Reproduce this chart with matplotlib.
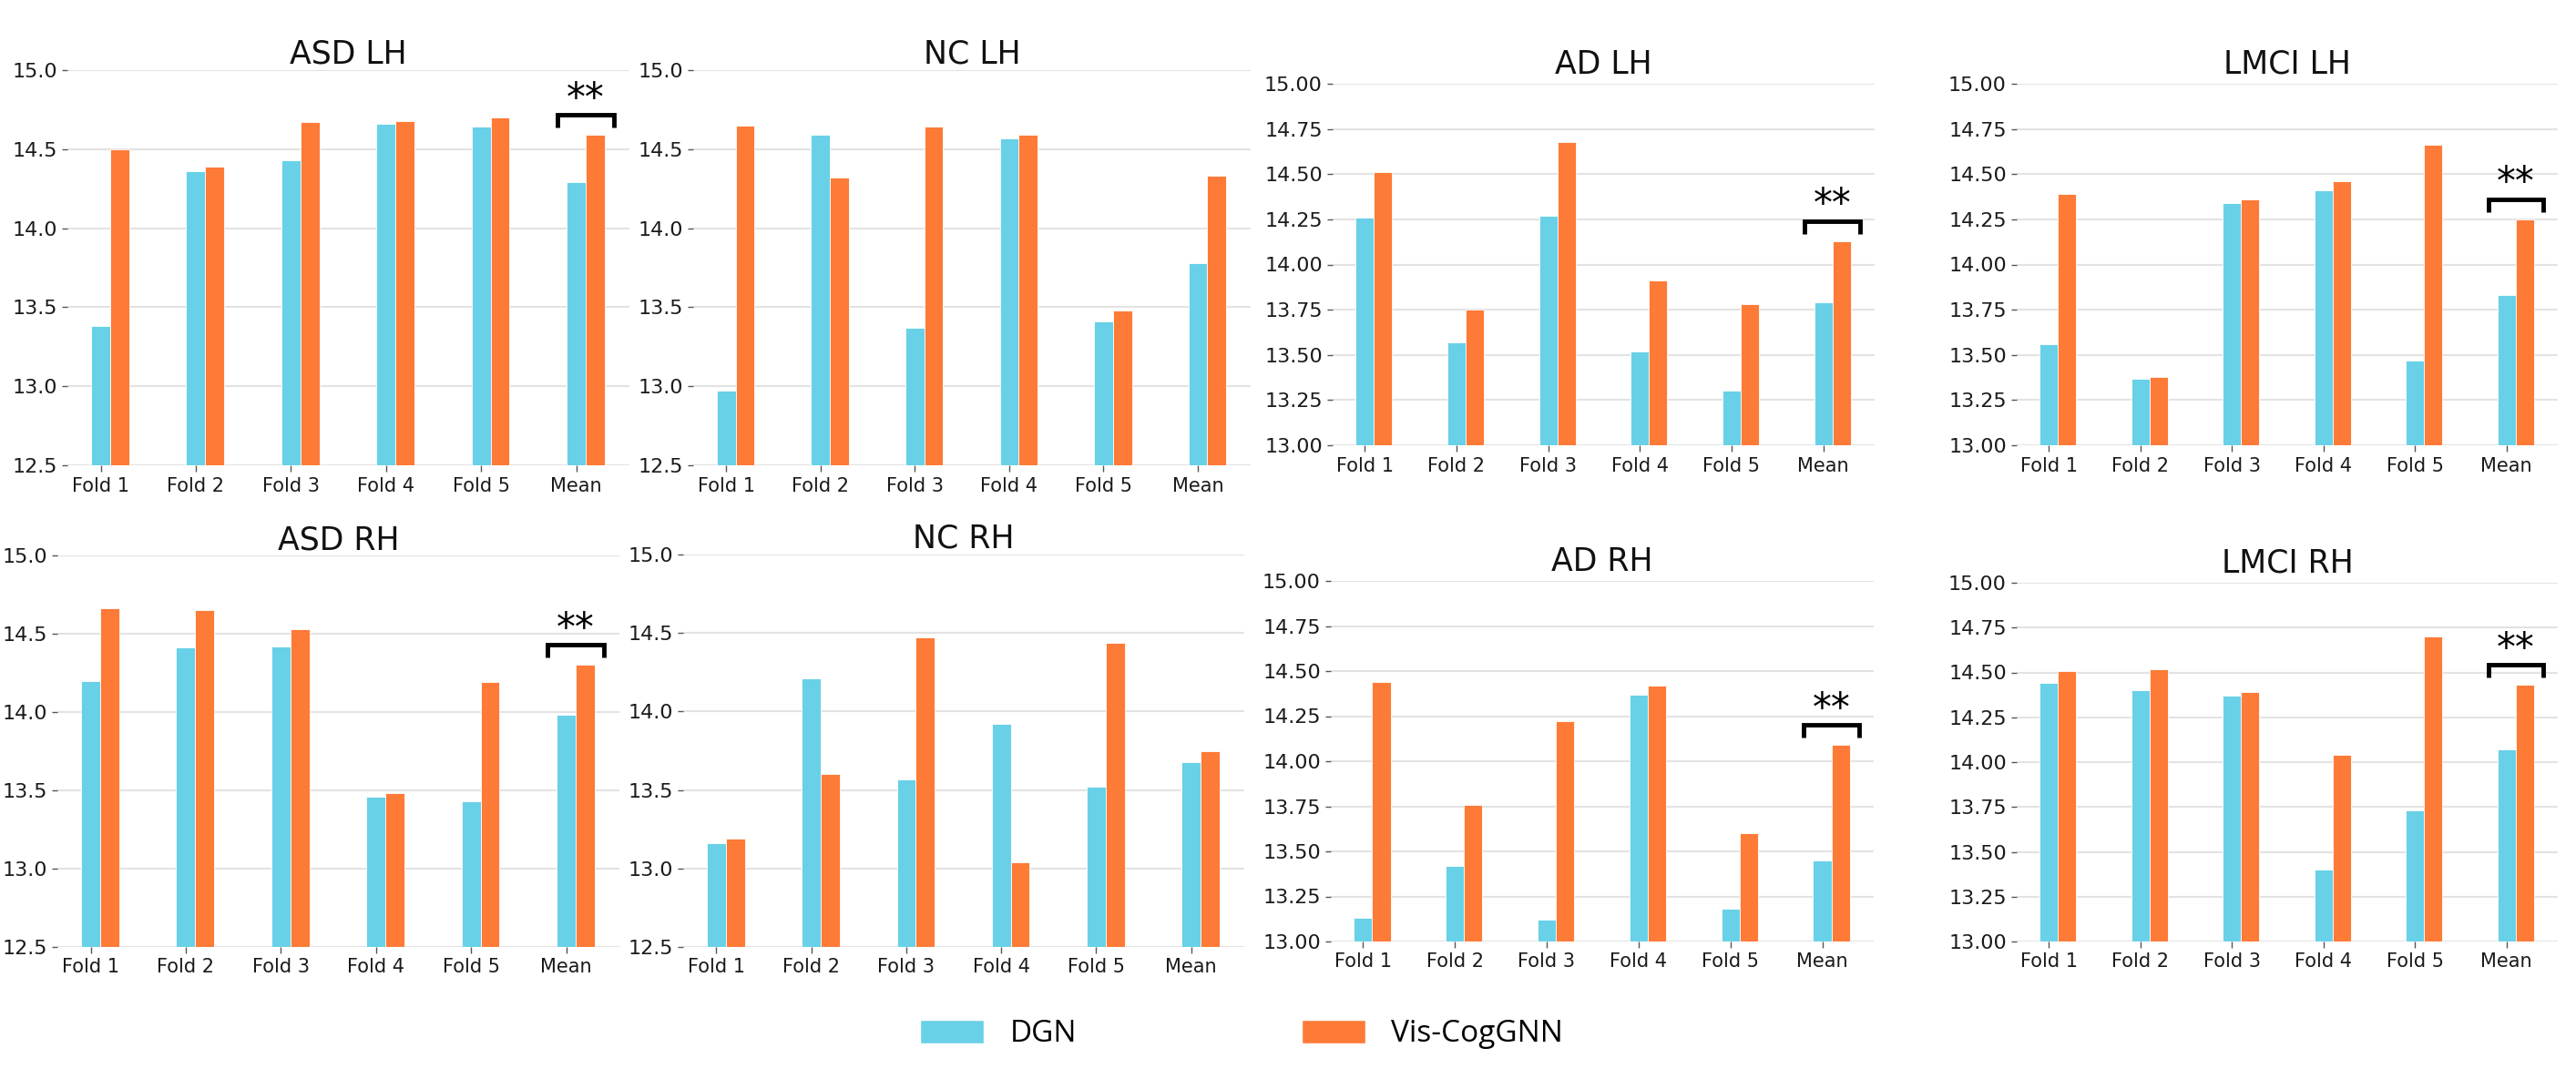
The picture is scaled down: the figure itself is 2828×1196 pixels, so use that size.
import numpy as np
import matplotlib
matplotlib.use("Agg")
import matplotlib.pyplot as plt
from matplotlib.patches import Patch
from matplotlib.transforms import offset_copy

# ─────────────────────────────────────────
# DONNÉES
# ─────────────────────────────────────────
folds = ["Fold 1", "Fold 2", "Fold 3", "Fold 4", "Fold 5", "Mean"]

asd_lh_dgn = [13.38, 14.36, 14.43, 14.66, 14.64, 14.29]
asd_lh_vis = [14.50, 14.39, 14.67, 14.68, 14.70, 14.59]
nc_lh_dgn = [12.97, 14.59, 13.37, 14.57, 13.41, 13.78]
nc_lh_vis = [14.65, 14.32, 14.64, 14.59, 13.48, 14.33]
ad_lh_dgn = [14.26, 13.57, 14.27, 13.52, 13.30, 13.79]
ad_lh_vis = [14.51, 13.75, 14.68, 13.91, 13.78, 14.13]
lmci_lh_dgn = [13.56, 13.37, 14.34, 14.41, 13.47, 13.83]
lmci_lh_vis = [14.39, 13.38, 14.36, 14.46, 14.66, 14.25]

asd_rh_dgn = [14.20, 14.41, 14.42, 13.46, 13.43, 13.98]
asd_rh_vis = [14.66, 14.65, 14.53, 13.48, 14.19, 14.30]
nc_rh_dgn = [13.16, 14.21, 13.57, 13.92, 13.52, 13.68]
nc_rh_vis = [13.19, 13.60, 14.47, 13.04, 14.44, 13.75]
ad_rh_dgn = [13.13, 13.42, 13.12, 14.37, 13.18, 13.45]
ad_rh_vis = [14.44, 13.76, 14.22, 14.42, 13.60, 14.09]
lmci_rh_dgn = [14.44, 14.40, 14.37, 13.40, 13.73, 14.07]
lmci_rh_vis = [14.51, 14.52, 14.39, 14.04, 14.70, 14.43]

titles = ["ASD LH", "NC LH", "AD LH", "LMCI LH",
          "ASD RH", "NC RH", "AD RH", "LMCI RH"]
dgn_series = [asd_lh_dgn, nc_lh_dgn, ad_lh_dgn, lmci_lh_dgn,
              asd_rh_dgn, nc_rh_dgn, ad_rh_dgn, lmci_rh_dgn]
vis_series = [asd_lh_vis, nc_lh_vis, ad_lh_vis, lmci_lh_vis,
              asd_rh_vis, nc_rh_vis, ad_rh_vis, lmci_rh_vis]
significant = [True, False, True, True, True, False, True, True]

# ─────────────────────────────────────────
# STYLE / MISE EN PAGE
# ─────────────────────────────────────────
C_DGN = "#68d1e7"
C_VIS = "#fe7a37"
W, H = 2828, 1196

# (x0, x1, y_top, y_bottom) en pixels
boxes = [(74, 691, 77, 511), (761, 1373, 77, 511),
         (1463, 2058, 92, 489), (2214, 2808, 92, 489),
         (63, 680, 610, 1040), (750, 1366, 609, 1040),
         (1461, 2057, 638, 1034), (2214, 2808, 640, 1034)]

plt.rcParams["font.family"] = ["DejaVu Sans"]
fig = plt.figure(figsize=(W / 100, H / 100), dpi=100)

x = np.arange(len(folds))
bw = 0.2

for k in range(8):
    x0, x1, yt, yb = boxes[k]
    ax = fig.add_axes([x0 / W, 1 - yb / H, (x1 - x0) / W, (yb - yt) / H])
    small = titles[k].startswith(("ASD", "NC"))
    ymin, ymax, step = (12.5, 15.0, 0.5) if small else (13.0, 15.0, 0.25)

    ax.bar(x, dgn_series[k], bw, color=C_DGN, edgecolor="white", linewidth=0.6, zorder=2)
    ax.bar(x + bw, vis_series[k], bw, color=C_VIS, edgecolor="white", linewidth=0.6, zorder=2)

    ax.set_xlim(-0.35, 5.56)
    ax.set_ylim(ymin, ymax)
    ticks = np.arange(ymin, ymax + 1e-9, step)
    ax.set_yticks(ticks)
    ax.set_yticklabels([f"{t:.1f}" if small else f"{t:.2f}" for t in ticks])
    ax.set_xticks(x)
    ax.set_xticklabels(folds)
    ax.tick_params(axis="y", labelsize=16, length=4, width=1, color="#555555", pad=4, labelcolor="#1a1a1a")
    ax.tick_params(axis="x", labelsize=15, length=5, width=1, color="#555555", pad=4, labelcolor="#1a1a1a")
    for s in ax.spines.values():
        s.set_visible(False)
    ax.grid(axis="y", color="#e3e3e3", linewidth=1.5, zorder=0)
    ax.set_axisbelow(True)
    ax.set_title(titles[k], fontsize=25, pad=5 if small else 8, color="#111111")

    if significant[k]:
        ppu = (yb - yt) / (ymax - ymin)
        v = vis_series[k][-1]
        y_lo = v + 8 / ppu
        y_hi = v + 22 / ppu
        y_star = y_hi + 27 / ppu
        ax.plot([4.8, 4.8, 5.4, 5.4], [y_lo, y_hi, y_hi, y_lo], color="black",
                lw=3.5, solid_joinstyle="miter", solid_capstyle="butt", clip_on=False, zorder=3)
        tr = offset_copy(ax.transData, fig=fig, y=-15.5, units="points")
        ax.text(5.1, y_star, "**", transform=tr, ha="center", va="baseline",
                fontsize=30, color="black")

handles = [Patch(facecolor=C_DGN, edgecolor="white", label="DGN"),
           Patch(facecolor=C_VIS, edgecolor="white", label="Vis-CogGNN")]
fig.legend(handles=handles, loc="center", ncol=2, frameon=False,
           bbox_to_anchor=(1363 / W, 1 - 1136 / H),
           prop={"family": ["Open Sans", "DejaVu Sans"], "size": 24},
           handlelength=2.1, handleheight=0.8, handletextpad=0.85, columnspacing=7.4)

fig.savefig("out.png", dpi=100, facecolor="white")
